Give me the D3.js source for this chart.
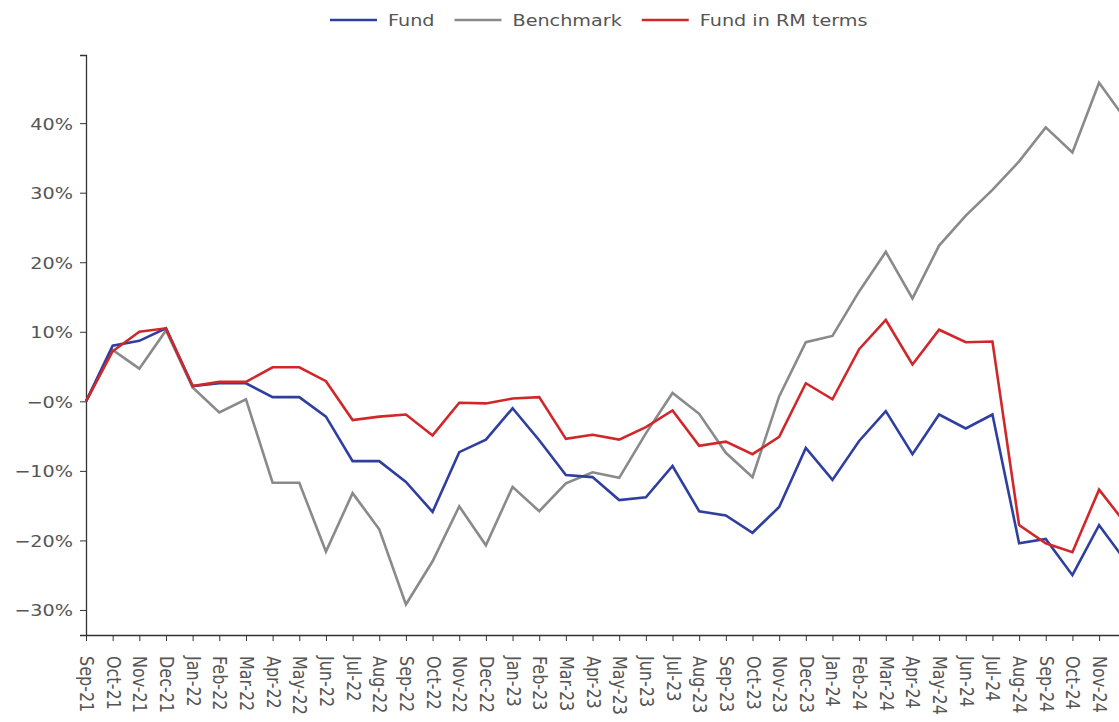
<!DOCTYPE html>
<html>
<head>
<meta charset="utf-8">
<script src="https://cdn.jsdelivr.net/npm/d3@7"></script>
<style>
  body { margin: 0; background: #fff; }
  svg { display: block; }
  .axis path, .axis line { stroke: #333; }
  .axis text { fill: #555; font-family: "DejaVu Sans", Verdana, sans-serif; }
  .legend text { fill: #555; font-family: "DejaVu Sans", Verdana, sans-serif; }
</style>
</head>
<body>
<div id="chart"></div>
<script>
// Month labels (last one falls just past the right edge)
const months = [
  'Sep-21', 'Oct-21', 'Nov-21', 'Dec-21',
  'Jan-22', 'Feb-22', 'Mar-22', 'Apr-22', 'May-22', 'Jun-22', 'Jul-22', 'Aug-22', 'Sep-22', 'Oct-22', 'Nov-22', 'Dec-22',
  'Jan-23', 'Feb-23', 'Mar-23', 'Apr-23', 'May-23', 'Jun-23', 'Jul-23', 'Aug-23', 'Sep-23', 'Oct-23', 'Nov-23', 'Dec-23',
  'Jan-24', 'Feb-24', 'Mar-24', 'Apr-24', 'May-24', 'Jun-24', 'Jul-24', 'Aug-24', 'Sep-24', 'Oct-24', 'Nov-24', 'Dec-24'
];

// Cumulative returns, %
const fund = [
  0, 8.0, 8.7, 10.5,
  2.2, 2.6, 2.6, 0.6, 0.6, -2.2, -8.6, -8.6, -11.6, -15.9, -7.3, -5.5,
  -1.0, -5.6, -10.6, -10.9, -14.2, -13.8, -9.3, -15.8, -16.4, -18.9, -15.2, -6.7,
  -11.3, -5.7, -1.4, -7.6, -1.9, -3.9, -1.9, -20.4, -19.8, -25.0, -17.8, -23.0
];
const benchmark = [
  0, 7.4, 4.7, 10.2,
  2.0, -1.6, 0.3, -11.7, -11.7, -21.6, -13.2, -18.4, -29.2, -23.0, -15.1, -20.7,
  -12.3, -15.8, -11.8, -10.2, -11.0, -4.6, 1.2, -1.8, -7.4, -10.9, 0.7, 8.5,
  9.4, 15.8, 21.5, 14.8, 22.4, 26.7, 30.4, 34.5, 39.4, 35.8, 45.8, 40.5
];
const fundRM = [
  0, 7.2, 10.0, 10.5,
  2.2, 2.8, 2.8, 4.9, 4.9, 2.9, -2.7, -2.2, -1.9, -4.9, -0.2, -0.3,
  0.4, 0.6, -5.4, -4.8, -5.5, -3.7, -1.3, -6.4, -5.8, -7.6, -5.1, 2.6,
  0.3, 7.5, 11.7, 5.3, 10.3, 8.5, 8.6, -17.8, -20.4, -21.7, -12.7, -17.6
];

const yTicks = [40, 30, 20, 10, 0, -10, -20, -30];
const yTickLabels = ['40%', '30%', '20%', '10%', '\u22120%', '\u221210%', '\u221220%', '\u221230%'];

const seriesNames = ['Fund', 'Benchmark', 'Fund in RM terms'];
const seriesColors = ['#2f3f9f', '#8a8a8a', '#d0272a'];
const seriesValues = [fund, benchmark, fundRM];

const width = 1119, height = 722;
const plotLeft = 86, plotTop = 55, plotBottom = 635;
const step = 26.66;
const stretch = 1.2; // text in the picture is drawn wide

const svg = d3.select('#chart').append('svg')
  .attr('width', width)
  .attr('height', height);

const x = d3.scalePoint()
  .domain(months)
  .range([plotLeft, plotLeft + step * (months.length - 1)]);

const y = d3.scaleLinear()
  .domain([-33.6, 49.8])
  .range([plotBottom, plotTop]);

// Y axis
const yAxis = svg.append('g')
  .attr('class', 'axis')
  .attr('transform', `translate(${plotLeft},0)`)
  .call(d3.axisLeft(y).tickValues(yTicks).tickSize(6).tickFormat((d, i) => yTickLabels[i]));
yAxis.select('.domain').attr('stroke-width', 1.3);
yAxis.selectAll('.tick text')
  .attr('x', null)
  .attr('dy', null)
  .attr('font-size', 16)
  .attr('transform', 'translate(-13,6) scale(' + stretch + ',1)');

// X axis (the last month sits past the frame, so its label is not drawn)
const xAxis = svg.append('g')
  .attr('class', 'axis')
  .attr('transform', `translate(0,${plotBottom})`)
  .call(d3.axisBottom(x).tickSize(6).tickSizeOuter(0)
    .tickFormat(d => x(d) < width - 10 ? d : ''));
xAxis.select('.domain').attr('d', `M${plotLeft},0.5H${width + 20}`).attr('stroke-width', 1.3);
xAxis.selectAll('.tick text')
  .attr('y', null)
  .attr('dy', null)
  .attr('font-size', 16)
  .attr('text-anchor', 'start')
  .attr('transform', 'translate(-6.5,21) rotate(90) scale(1,' + stretch + ')');

// Lines
const line = d3.line()
  .x((d, i) => x(months[i]))
  .y(d => y(d));

svg.append('g')
  .selectAll('path')
  .data([1, 0, 2])
  .join('path')
  .attr('fill', 'none')
  .attr('stroke', k => seriesColors[k])
  .attr('stroke-width', 2.6)
  .attr('stroke-linejoin', 'miter')
  .attr('d', k => line(seriesValues[k]));

// Legend
const legend = svg.append('g').attr('class', 'legend');
let lx = 330;
seriesNames.forEach((name, k) => {
  legend.append('line')
    .attr('x1', lx).attr('x2', lx + 47)
    .attr('y1', 20).attr('y2', 20)
    .attr('stroke', seriesColors[k])
    .attr('stroke-width', 2.6);
  const t = legend.append('text')
    .attr('font-size', 16)
    .attr('transform', `translate(${lx + 58},26) scale(${stretch},1)`)
    .text(name);
  lx += 58 + t.node().getComputedTextLength() * stretch + 20;
});
</script>
</body>
</html>
